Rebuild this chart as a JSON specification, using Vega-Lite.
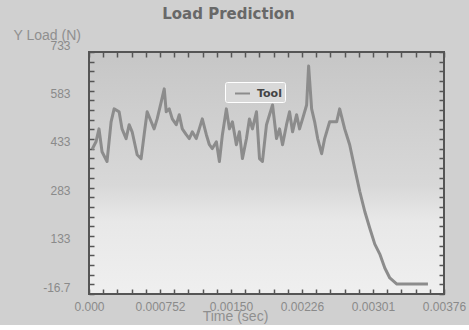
{
  "$schema": "https://vega.github.io/schema/vega-lite/v6.json",
  "width": 355,
  "height": 242,
  "padding": {"left": 13, "top": 7, "right": 18, "bottom": 2},
  "background": "#d0d0d0",
  "title": {"text": "Load Prediction", "font": "DejaVu Sans", "fontSize": 15, "fontWeight": "bold", "color": "#686868", "anchor": "middle", "dx": -38, "offset": 6},
  "config": {
    "view": {"stroke": "#555555", "strokeWidth": 2, "fill": {"gradient": "linear", "x1": 0, "y1": 0, "x2": 0, "y2": 1, "stops": [{"offset": 0, "color": "#c6c6c6"}, {"offset": 0.55, "color": "#d8d8d8"}, {"offset": 0.7, "color": "#e8e8e8"}, {"offset": 1, "color": "#efefef"}]}},
    "axis": {"labelFont": "Liberation Sans", "titleFont": "Liberation Sans", "labelColor": "#8a8a8a", "titleColor": "#8f8f8f", "labelFontSize": 12, "titleFontSize": 14, "titleFontWeight": "normal", "domain": false, "grid": false, "tickColor": "#555555", "tickSize": 5, "tickWidth": 1.5, "offset": -5, "labelOverlap": false, "labelBound": false, "labelFlush": false}
  },
  "data": {"values": [
    {"t": 0.000032, "load": 431, "series": "Tool"},
    {"t": 0.000074, "load": 455, "series": "Tool"},
    {"t": 0.000106, "load": 495, "series": "Tool"},
    {"t": 0.000138, "load": 424, "series": "Tool"},
    {"t": 0.000191, "load": 394, "series": "Tool"},
    {"t": 0.000234, "load": 517, "series": "Tool"},
    {"t": 0.000266, "load": 557, "series": "Tool"},
    {"t": 0.000319, "load": 548, "series": "Tool"},
    {"t": 0.000350, "load": 495, "series": "Tool"},
    {"t": 0.000393, "load": 465, "series": "Tool"},
    {"t": 0.000425, "load": 508, "series": "Tool"},
    {"t": 0.000457, "load": 486, "series": "Tool"},
    {"t": 0.000510, "load": 415, "series": "Tool"},
    {"t": 0.000552, "load": 403, "series": "Tool"},
    {"t": 0.000584, "load": 477, "series": "Tool"},
    {"t": 0.000616, "load": 548, "series": "Tool"},
    {"t": 0.000659, "load": 517, "series": "Tool"},
    {"t": 0.000690, "load": 495, "series": "Tool"},
    {"t": 0.000722, "load": 526, "series": "Tool"},
    {"t": 0.000765, "load": 579, "series": "Tool"},
    {"t": 0.000797, "load": 619, "series": "Tool"},
    {"t": 0.000818, "load": 548, "series": "Tool"},
    {"t": 0.000850, "load": 557, "series": "Tool"},
    {"t": 0.000882, "load": 526, "series": "Tool"},
    {"t": 0.000924, "load": 508, "series": "Tool"},
    {"t": 0.000956, "load": 539, "series": "Tool"},
    {"t": 0.000988, "load": 495, "series": "Tool"},
    {"t": 0.001030, "load": 477, "series": "Tool"},
    {"t": 0.001062, "load": 465, "series": "Tool"},
    {"t": 0.001094, "load": 486, "series": "Tool"},
    {"t": 0.001136, "load": 465, "series": "Tool"},
    {"t": 0.001168, "load": 495, "series": "Tool"},
    {"t": 0.001200, "load": 526, "series": "Tool"},
    {"t": 0.001243, "load": 477, "series": "Tool"},
    {"t": 0.001275, "load": 446, "series": "Tool"},
    {"t": 0.001306, "load": 434, "series": "Tool"},
    {"t": 0.001349, "load": 455, "series": "Tool"},
    {"t": 0.001381, "load": 394, "series": "Tool"},
    {"t": 0.001413, "load": 477, "series": "Tool"},
    {"t": 0.001455, "load": 557, "series": "Tool"},
    {"t": 0.001487, "load": 495, "series": "Tool"},
    {"t": 0.001519, "load": 517, "series": "Tool"},
    {"t": 0.001561, "load": 446, "series": "Tool"},
    {"t": 0.001593, "load": 486, "series": "Tool"},
    {"t": 0.001625, "load": 403, "series": "Tool"},
    {"t": 0.001668, "load": 465, "series": "Tool"},
    {"t": 0.001699, "load": 526, "series": "Tool"},
    {"t": 0.001731, "load": 495, "series": "Tool"},
    {"t": 0.001774, "load": 548, "series": "Tool"},
    {"t": 0.001806, "load": 403, "series": "Tool"},
    {"t": 0.001837, "load": 394, "series": "Tool"},
    {"t": 0.001880, "load": 508, "series": "Tool"},
    {"t": 0.001912, "load": 539, "series": "Tool"},
    {"t": 0.001944, "load": 569, "series": "Tool"},
    {"t": 0.001986, "load": 465, "series": "Tool"},
    {"t": 0.002018, "load": 495, "series": "Tool"},
    {"t": 0.002050, "load": 446, "series": "Tool"},
    {"t": 0.002092, "load": 508, "series": "Tool"},
    {"t": 0.002124, "load": 548, "series": "Tool"},
    {"t": 0.002156, "load": 486, "series": "Tool"},
    {"t": 0.002199, "load": 539, "series": "Tool"},
    {"t": 0.002230, "load": 495, "series": "Tool"},
    {"t": 0.002262, "load": 526, "series": "Tool"},
    {"t": 0.002305, "load": 569, "series": "Tool"},
    {"t": 0.002326, "load": 690, "series": "Tool"},
    {"t": 0.002358, "load": 557, "series": "Tool"},
    {"t": 0.002390, "load": 517, "series": "Tool"},
    {"t": 0.002422, "load": 465, "series": "Tool"},
    {"t": 0.002464, "load": 418, "series": "Tool"},
    {"t": 0.002496, "load": 465, "series": "Tool"},
    {"t": 0.002549, "load": 517, "series": "Tool"},
    {"t": 0.002623, "load": 517, "series": "Tool"},
    {"t": 0.002655, "load": 557, "series": "Tool"},
    {"t": 0.002708, "load": 495, "series": "Tool"},
    {"t": 0.002761, "load": 446, "series": "Tool"},
    {"t": 0.002815, "load": 372, "series": "Tool"},
    {"t": 0.002868, "load": 301, "series": "Tool"},
    {"t": 0.002921, "load": 239, "series": "Tool"},
    {"t": 0.002974, "load": 187, "series": "Tool"},
    {"t": 0.003027, "load": 138, "series": "Tool"},
    {"t": 0.003080, "load": 107, "series": "Tool"},
    {"t": 0.003133, "load": 64, "series": "Tool"},
    {"t": 0.003186, "load": 33, "series": "Tool"},
    {"t": 0.003261, "load": 14, "series": "Tool"},
    {"t": 0.003590, "load": 14, "series": "Tool"}
  ]},
  "layer": [
    {
      "mark": {"type": "line", "strokeWidth": 3, "strokeJoin": "round"},
      "encoding": {
        "x": {"field": "t", "type": "quantitative", "scale": {"domain": [0, 0.00376], "nice": false, "zero": false},
          "axis": {"orient": "bottom", "title": "Time (sec)", "titleX": 146, "titleY": 31, "titleBaseline": "alphabetic", "titleAnchor": "start", "titleAlign": "center", "labelPadding": 7,
            "values": [0, 0.0001504, 0.0003008, 0.0004512, 0.0006016, 0.000752, 0.0009024, 0.0010528, 0.0012032, 0.0013536, 0.001504, 0.0016544, 0.0018048, 0.0019552, 0.0021056, 0.002256, 0.0024064, 0.0025568, 0.0027072, 0.0028576, 0.003008, 0.0031584, 0.0033088, 0.0034592, 0.0036096, 0.00376],
            "labelExpr": "abs(datum.value/0.000752 - round(datum.value/0.000752)) < 0.01 ? (datum.value == 0 ? '0.000' : format(datum.value, '.3r')) : ''"}},
        "y": {"field": "load", "type": "quantitative", "scale": {"domain": [-16.7, 733.3], "nice": false, "zero": false},
          "axis": {"orient": "left", "title": "Y Load (N)", "titleAngle": 0, "titleX": -81, "titleY": -13, "titleAlign": "left", "titleBaseline": "alphabetic", "labelPadding": 19, "labelOffset": -7,
            "values": [-16.7, 13.3, 43.3, 73.3, 103.3, 133.3, 163.3, 193.3, 223.3, 253.3, 283.3, 313.3, 343.3, 373.3, 403.3, 433.3, 463.3, 493.3, 523.3, 553.3, 583.3, 613.3, 643.3, 673.3, 703.3, 733.3],
            "labelExpr": "abs((datum.value+16.7)/150 - round((datum.value+16.7)/150)) < 0.01 ? (datum.value < 0 ? '-16.7' : format(datum.value, 'd')) : ''"}},
        "color": {"field": "series", "type": "nominal", "scale": {"range": ["#8c8c8c"]},
          "legend": {"title": null, "orient": "none", "legendX": 136, "legendY": 30, "direction": "horizontal", "strokeColor": "#ffffff", "fillColor": "#d9d9d9", "padding": 3, "cornerRadius": 2, "symbolType": "stroke", "symbolSize": 225, "symbolStrokeWidth": 2, "symbolStrokeColor": "#b4b4b4", "symbolOffset": 6, "labelOffset": 6, "labelFont": "DejaVu Sans", "labelFontWeight": "bold", "labelFontSize": 11, "labelColor": "#444444", "labelLimit": 200}}
      }
    },
    {
      "mark": {"type": "line", "opacity": 0},
      "encoding": {
        "x": {"field": "t", "type": "quantitative",
          "axis": {"orient": "top", "title": null, "labels": false, "values": [0, 0.0001504, 0.0003008, 0.0004512, 0.0006016, 0.000752, 0.0009024, 0.0010528, 0.0012032, 0.0013536, 0.001504, 0.0016544, 0.0018048, 0.0019552, 0.0021056, 0.002256, 0.0024064, 0.0025568, 0.0027072, 0.0028576, 0.003008, 0.0031584, 0.0033088, 0.0034592, 0.0036096, 0.00376]}},
        "y": {"field": "load", "type": "quantitative",
          "axis": {"orient": "right", "title": null, "labels": false, "values": [-16.7, 13.3, 43.3, 73.3, 103.3, 133.3, 163.3, 193.3, 223.3, 253.3, 283.3, 313.3, 343.3, 373.3, 403.3, 433.3, 463.3, 493.3, 523.3, 553.3, 583.3, 613.3, 643.3, 673.3, 703.3, 733.3]}}
      }
    }
  ]
}
